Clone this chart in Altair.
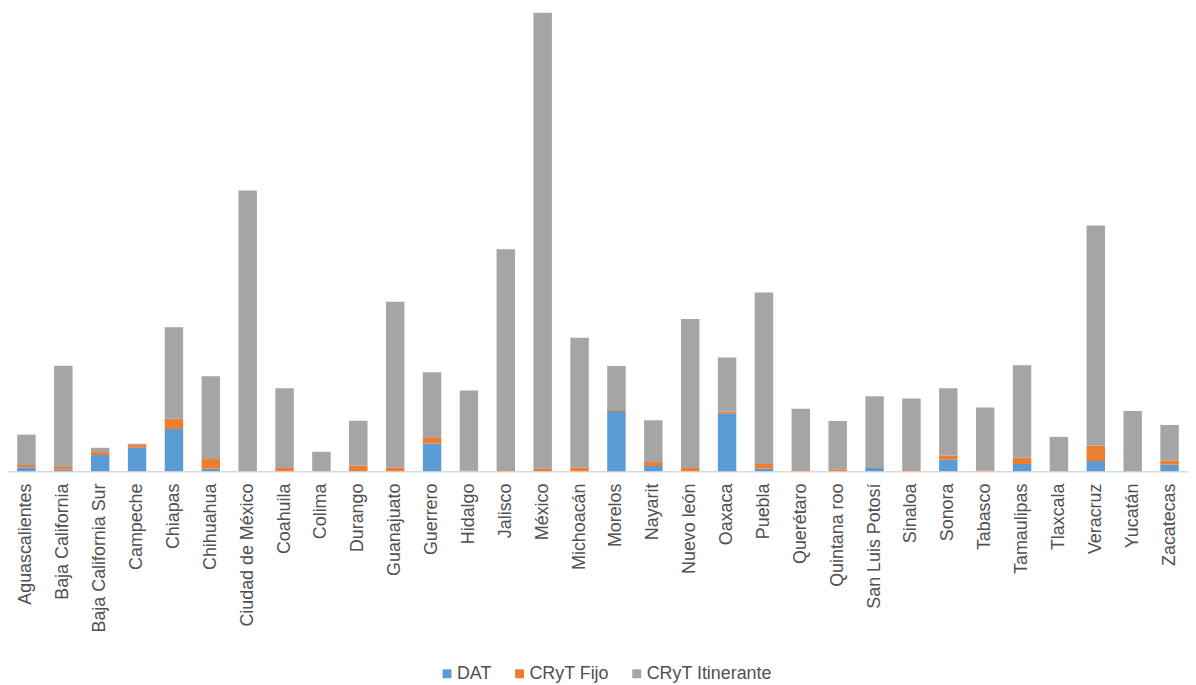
import altair as alt
import pandas as pd

states = ["Aguascalientes", "Baja California", "Baja California Sur", "Campeche", "Chiapas",
          "Chihuahua", "Ciudad de México", "Coahuila", "Colima", "Durango", "Guanajuato",
          "Guerrero", "Hidalgo", "Jalisco", "México", "Michoacán", "Morelos", "Nayarit",
          "Nuevo león", "Oaxaca", "Puebla", "Querétaro", "Quintana roo", "San Luis Potosí",
          "Sinaloa", "Sonora", "Tabasco", "Tamaulipas", "Tlaxcala", "Veracruz", "Yucatán",
          "Zacatecas"]

dat = [3.8, 1.5, 16.2, 23.5, 42.5, 2.5, 0, 0, 0, 0, 0, 27.8, 0, 0, 0, 0, 60.5, 5.2, 0, 58.2,
       2.5, 0, 0, 3.2, 0, 11.5, 0, 7.2, 0, 10.2, 0, 6.5]
fijo = [2.4, 2.7, 3.0, 2.7, 10.3, 9.7, 0, 3.2, 0, 5.5, 3.8, 6.4, 0.5, 1.0, 2.5, 3.8, 1.0, 4.0,
        3.2, 2.0, 4.7, 1.0, 1.8, 0, 1.0, 4.3, 0.7, 6.3, 0, 15.6, 0, 4.3]
itinerante = [30.6, 102.0, 4.3, 1.3, 92.0, 83.3, 282.5, 80.3, 19.5, 45.3, 166.7, 65.3, 80.7,
              222.5, 459.0, 130.4, 44.3, 42.0, 150.0, 54.3, 172.6, 61.8, 48.7, 72.3, 72.2,
              67.7, 63.5, 93.0, 34.5, 221.4, 60.5, 35.7]

series = ["DAT", "CRyT Fijo", "CRyT Itinerante"]
colors = ["#5B9BD5", "#ED7D31", "#A5A5A5"]

rows = []
for i, s in enumerate(states):
    for k, (name, vals) in enumerate(zip(series, [dat, fijo, itinerante])):
        rows.append({"estado": s, "serie": name, "orden": k, "valor": vals[i]})
df = pd.DataFrame(rows)

FONT = "Liberation Sans"

chart = alt.Chart(df).mark_bar().encode(
    x=alt.X("estado:N", sort=states, title=None,
            scale=alt.Scale(paddingInner=0.5, paddingOuter=0.25),
            axis=alt.Axis(labelAngle=-90, labelFontSize=18, labelFont=FONT,
                          labelColor="#505050", ticks=False, labelPadding=12,
                          domainColor="#D9D9D9", domainWidth=1.5, labelLimit=300)),
    y=alt.Y("valor:Q", stack="zero", title=None,
            scale=alt.Scale(domain=[0, 464], nice=False),
            axis=None),
    color=alt.Color("serie:N", scale=alt.Scale(domain=series, range=colors),
                    legend=alt.Legend(title=None, orient="none", direction="horizontal",
                                      legendX=433, legendY=659, symbolType="square",
                                      symbolSize=81, symbolStrokeWidth=0,
                                      labelFontSize=18, labelFont=FONT,
                                      labelColor="#505050", labelOffset=1,
                                      columnPadding=19, padding=0)),
    order=alt.Order("orden:Q", sort="ascending"),
).properties(
    width=1188, height=464,
    padding={"left": 0, "top": 0, "right": 0, "bottom": 0},
).configure_view(stroke=None)

chart.save("out.html", embed_options={"renderer": "svg", "actions": False})
